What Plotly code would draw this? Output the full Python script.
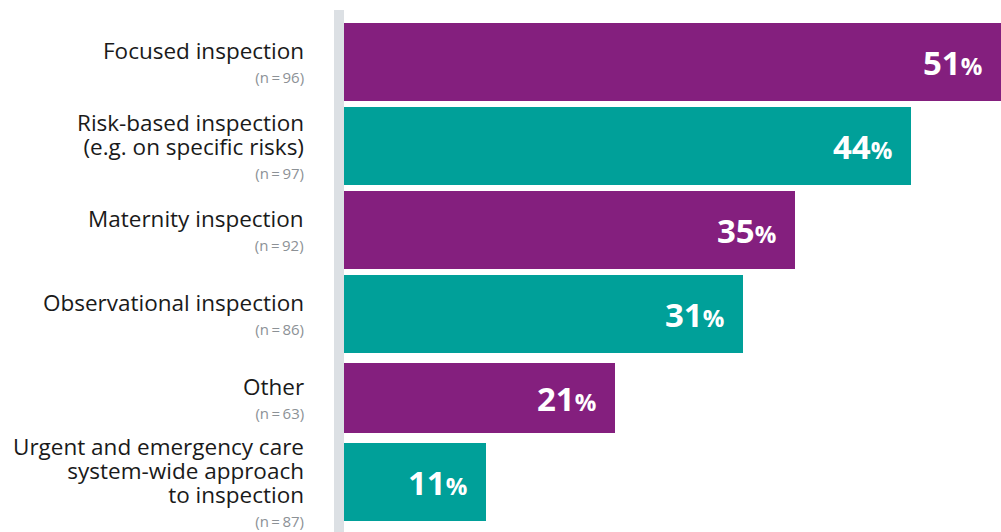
import plotly.graph_objects as go

# Inspection types and their shares
categories = [
    ["Focused inspection"],
    ["Risk-based inspection", "(e.g. on specific risks)"],
    ["Maternity inspection"],
    ["Observational inspection"],
    ["Other"],
    ["Urgent and emergency care", "system-wide approach", "to inspection"],
]
shares = [51, 44, 35, 31, 21, 11]
sample_sizes = [96, 97, 92, 86, 63, 87]

PURPLE = "#841F7E"
TEAL = "#00A099"
bar_colors = [PURPLE, TEAL, PURPLE, TEAL, PURPLE, TEAL]
bar_widths = [0.917, 0.917, 0.917, 0.917, 0.833, 0.917]

FONT = "Open Sans"
LABEL_PX = 22.5    # size of category text
N_PX = 15          # size of sample-size text
BASE_PX = 18.5     # base size: sets the line pitch (1.3em) of the stacked label

fig = go.Figure(
    go.Bar(
        x=shares,
        y=list(range(len(categories))),
        orientation="h",
        marker=dict(color=bar_colors, line=dict(width=0)),
        width=bar_widths,
        hoverinfo="skip",
    )
)

annotations = []
for i, (lines, val, n) in enumerate(zip(categories, shares, sample_sizes)):
    label_lines = [f"<span style='font-size:{LABEL_PX}px'>{ln}</span>" for ln in lines]
    label_lines.append(
        f"<span style='font-size:{N_PX}px;color:#8C9196'>(n\u2009=\u2009{n})</span>"
    )
    # Category label with its sample size, centred on the bar
    annotations.append(dict(
        x=0, xref="paper", xshift=-38, xanchor="right",
        y=i, yref="y", yanchor="middle", yshift=1,
        text="<br>".join(label_lines), showarrow=False, align="right",
        font=dict(family=FONT, size=BASE_PX, color="#1A1A1A"),
    ))
    # Value label inside the bar end
    annotations.append(dict(
        x=val, xref="x", xshift=-17, xanchor="right",
        y=i, yref="y", yanchor="middle",
        text=f"<b>{val}<span style='font-size:24px'>%</span></b>",
        showarrow=False,
        font=dict(family=FONT, size=33, color="white"),
    ))

fig.update_layout(
    width=1001, height=532,
    margin=dict(l=344, r=0, t=20, b=8),
    paper_bgcolor="white", plot_bgcolor="white",
    showlegend=False,
    bargap=0,
    xaxis=dict(range=[0, 51], visible=False, fixedrange=True),
    yaxis=dict(range=[5.5, -0.5], visible=False, fixedrange=True),
    annotations=annotations,
    shapes=[dict(
        type="rect", xref="paper", yref="paper",
        x0=-10 / 657, x1=0, y0=-8 / 504, y1=1 + 10 / 504,
        fillcolor="#DCE0E4", line=dict(width=0), layer="below",
    )],
)

fig.write_html("out.html")
